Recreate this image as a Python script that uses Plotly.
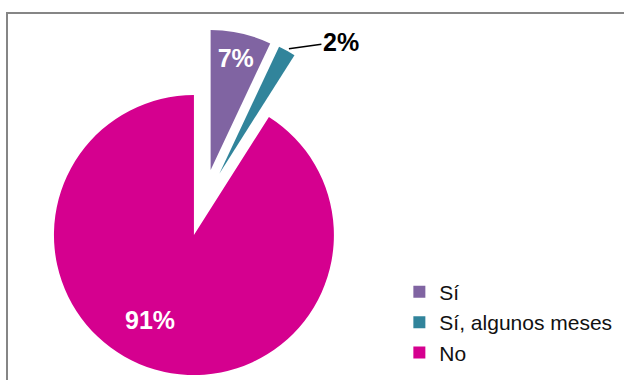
import math
import plotly.graph_objects as go

categories = ["Sí", "Sí, algunos meses", "No"]
values = [7, 2, 91]
colors = ["#8064A2", "#31849B", "#D5008F"]
label_texts = ["7%", "2%", "91%"]

W, H = 624, 380
PULL = 0.24
DOM_X = [0.0476, 0.604]
DOM_Y = [0.0095, 0.923]

fig = go.Figure(go.Pie(
    labels=categories,
    values=values,
    sort=False,
    direction="clockwise",
    rotation=0,
    pull=[PULL] * len(values),
    marker=dict(colors=colors, line=dict(width=0)),
    text=[label_texts[0], "", ""],
    textinfo="text",
    textposition="inside",
    insidetextorientation="horizontal",
    textfont=dict(family="Liberation Sans", size=25, color="white", weight="bold"),
    domain=dict(x=DOM_X, y=DOM_Y),
    automargin=False,
    hoverinfo="label+percent",
))

# geometry of the pie (same rule plotly uses) to anchor the outside label
box = min((DOM_X[1] - DOM_X[0]) * W, (DOM_Y[1] - DOM_Y[0]) * H)
r = box / 2 / (1 + PULL)
cx = W * (DOM_X[0] + DOM_X[1]) / 2
cy = H * (1 - DOM_Y[0]) - (DOM_Y[1] - DOM_Y[0]) * H / 2
total = sum(values)
start = sum(values[:1]) / total * 360
mid = math.radians(start + values[1] / total * 360 / 2)
dx, dy = math.sin(mid), -math.cos(mid)
tip_x = cx + r * PULL * dx + r * dx
tip_y = cy + r * PULL * dy + r * dy

annotations = [
    dict(
        x=(tip_x + 2) / W, y=1 - (tip_y - 2) / H, xref="paper", yref="paper",
        text="<b>" + label_texts[1] + "</b>", showarrow=True,
        arrowhead=0, arrowwidth=1.5, arrowcolor="black",
        ax=52, ay=-7, xanchor="center", yanchor="middle",
        font=dict(family="Liberation Sans", size=25, color="black"),
    ),
    dict(
        x=150 / W, y=1 - 320 / H, xref="paper", yref="paper",
        text="<b>" + label_texts[2] + "</b>", showarrow=False,
        xanchor="center", yanchor="middle",
        font=dict(family="Liberation Sans", size=25, color="white"),
    ),
]

fig.update_layout(
    width=W, height=H,
    margin=dict(l=0, r=0, t=0, b=0),
    paper_bgcolor="white",
    plot_bgcolor="white",
    showlegend=True,
    legend=dict(
        x=0.64, y=0.285, xanchor="left", yanchor="top",
        font=dict(family="Liberation Sans", size=21, color="#111111"),
        bgcolor="rgba(0,0,0,0)",
        traceorder="normal",
    ),
    annotations=annotations,
    shapes=[dict(
        type="rect", xref="paper", yref="paper",
        x0=7 / W, x1=1.05, y0=-0.05, y1=1 - 13 / H,
        line=dict(color="#868686", width=2),
        fillcolor="rgba(0,0,0,0)", layer="below",
    )],
)

fig.write_html(
    "out.html",
    config={"displayModeBar": False},
    post_script="document.body.style.margin='0';document.body.style.overflow='hidden';",
)
